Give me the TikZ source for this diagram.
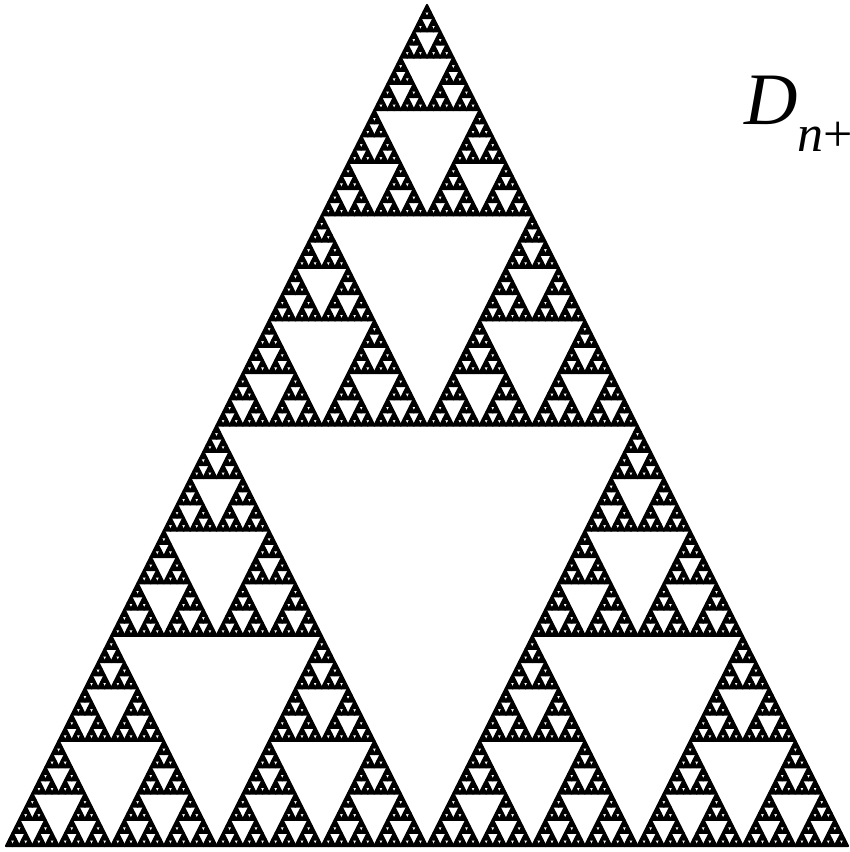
\documentclass[tikz,border=0pt]{standalone}
\usepackage{fontspec}
\setmainfont{Liberation Serif}
\usetikzlibrary{positioning}
\definecolor{ink}{HTML}{000000}

\tikzset{
  cell/.style={fill=ink,draw=ink,line width=2.2pt,line join=round},
  lbl/.style={inner sep=0pt,anchor=base west,text=ink}
}

% gasket in the unit triangle (0,0)-(1,0)-(0.5,1), #1 levels deep
\newcommand\gasket[1]{%
  \ifnum#1=0
    \fill[cell] (0,0) -- (1,0) -- (0.5,1) -- cycle;
  \else
    \begin{scope}[scale=0.5]\gasket{\the\numexpr#1-1\relax}\end{scope}%
    \begin{scope}[shift={(0.5,0)},scale=0.5]\gasket{\the\numexpr#1-1\relax}\end{scope}%
    \begin{scope}[shift={(0.25,0.5)},scale=0.5]\gasket{\the\numexpr#1-1\relax}\end{scope}%
  \fi}

\begin{document}
\begin{tikzpicture}[x=1pt,y=1pt]
\useasboundingbox (0,0) rectangle (850,852);
\clip (0,0) rectangle (850,852);
\begin{scope}[shift={(6,6)},x=842pt,y=841pt]
\gasket{7}
\end{scope}
\node[lbl,font=\fontsize{74}{80}\selectfont\itshape] (dname) at (744,727) {D};
\node[lbl,font=\fontsize{52}{60}\selectfont] (dindex) at (797,700) {\textit{n}+};
\end{tikzpicture}
\end{document}
